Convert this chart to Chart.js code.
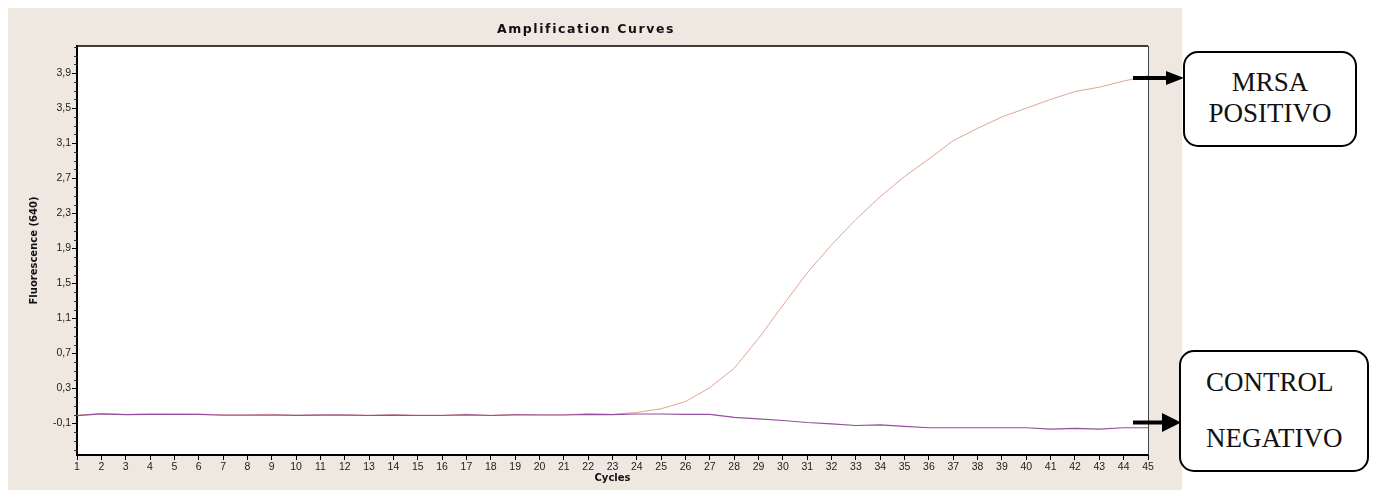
<!DOCTYPE html>
<html>
<head>
<meta charset="utf-8">
<script src="https://cdn.jsdelivr.net/npm/chart.js@4.4.1/dist/chart.umd.min.js"></script>
<style>
  html, body { margin: 0; padding: 0; background: #ffffff; }
  #wrap { position: relative; width: 1373px; height: 495px; overflow: hidden; background: #fff; }
  #panel { position: absolute; left: 8px; top: 8px; width: 1174px; height: 482px; background: #eee8e0; }
  #c { position: absolute; left: 0; top: 0; }
  .box { position: absolute; border: 2px solid #000; border-radius: 15px; background: #fff; box-sizing: border-box; }
  .lbl { position: absolute; font-family: "Liberation Serif", "Times New Roman", serif; font-size: 27px; line-height: 27px; color: #111; white-space: nowrap; }
  svg.arr { position: absolute; left: 0; top: 0; }
</style>
</head>
<body>
<div id="wrap">
  <div id="panel"></div>
  <canvas id="c" width="1170" height="495"></canvas>
  <div class="box" style="left:1183px; top:51px; width:174px; height:96px;"></div>
  <div class="box" style="left:1179px; top:350px; width:190px; height:122px;"></div>
  <div class="lbl" style="left:1183px; width:174px; text-align:center; top:69px;">MRSA</div>
  <div class="lbl" style="left:1183px; width:174px; text-align:center; top:100px;">POSITIVO</div>
  <div class="lbl" style="left:1206px; top:369px;">CONTROL</div>
  <div class="lbl" style="left:1206px; top:425px;">NEGATIVO</div>
  <svg class="arr" width="1373" height="495">
    <line x1="1133" y1="78" x2="1168" y2="78" stroke="#000" stroke-width="4"/>
    <polygon points="1166,71 1184,78 1166,85" fill="#000"/>
    <line x1="1133" y1="422.5" x2="1164" y2="422.5" stroke="#000" stroke-width="4"/>
    <polygon points="1162,413 1181,422.5 1162,432" fill="#000"/>
  </svg>
</div>
<script>
const chartTitle = 'Amplification Curves';
const cycles = [1,2,3,4,5,6,7,8,9,10,11,12,13,14,15,16,17,18,19,20,21,22,23,24,25,26,27,28,29,30,31,32,33,34,35,36,37,38,39,40,41,42,43,44,45];
const mrsaPositivo = [-0.005,0.012,0.003,0.008,0.007,0.006,0.0,0.0,0.006,-0.008,0.0,0.0,-0.006,0.0,-0.006,-0.006,0.006,-0.008,0.004,0.0,0.0,0.01,0.004,0.026,0.068,0.15,0.31,0.53,0.87,1.25,1.62,1.94,2.23,2.49,2.72,2.92,3.13,3.27,3.40,3.50,3.60,3.69,3.74,3.81,3.87];
const controlNegativo = [-0.01,0.01,0.0,0.003,0.003,0.003,-0.006,-0.006,-0.003,-0.008,-0.005,-0.005,-0.009,-0.005,-0.009,-0.009,-0.002,-0.009,-0.001,-0.003,-0.003,0.004,0.0,0.008,0.008,0.005,0.003,-0.03,-0.047,-0.066,-0.089,-0.104,-0.123,-0.115,-0.134,-0.149,-0.149,-0.149,-0.149,-0.149,-0.165,-0.157,-0.165,-0.149,-0.149];
const yTickValues = [-0.1,0.3,0.7,1.1,1.5,1.9,2.3,2.7,3.1,3.5,3.9];
const yTickLabels = ["-0,1","0,3","0,7","1,1","1,5","1,9","2,3","2,7","3,1","3,5","3,9"];
const yMinorTicks = [-0.4,-0.3,-0.2,0.0,0.1,0.2,0.4,0.5,0.6,0.8,0.9,1.0,1.2,1.3,1.4,1.6,1.7,1.8,2.0,2.1,2.2,2.4,2.5,2.6,2.8,2.9,3.0,3.2,3.3,3.4,3.6,3.7,3.8,4.0,4.1,4.2];
const xTickLabels = cycles.map(String);

const frame = {
  id: 'frame',
  beforeDraw(chart) {
    const a = chart.chartArea, ctx = chart.ctx;
    ctx.save();
    ctx.fillStyle = '#ffffff';
    ctx.fillRect(a.left, a.top, a.right - a.left, a.bottom - a.top);
    ctx.restore();
  },
  afterDraw(chart) {
    const a = chart.chartArea, ctx = chart.ctx, y = chart.scales.y;
    ctx.save();
    ctx.strokeStyle = '#000';
    ctx.lineWidth = 1.5;
    ctx.beginPath();
    ctx.moveTo(a.left, a.top); ctx.lineTo(a.right, a.top);
    ctx.stroke();
    ctx.strokeStyle = '#444';
    ctx.lineWidth = 1;
    ctx.beginPath();
    ctx.moveTo(a.right + 0.5, a.top); ctx.lineTo(a.right + 0.5, a.bottom);
    ctx.stroke();
    ctx.strokeStyle = '#333';
    ctx.beginPath();
    yMinorTicks.forEach(v => {
      const py = Math.round(y.getPixelForValue(v)) + 0.5;
      ctx.moveTo(a.left - 3, py); ctx.lineTo(a.left, py);
    });
    ctx.stroke();
    ctx.fillStyle = '#111';
    ctx.font = 'bold 12.5px "DejaVu Sans"';
    ctx.letterSpacing = '1.6px';
    ctx.textAlign = 'center';
    ctx.textBaseline = 'middle';
    ctx.fillText(chartTitle, 586, 30);
    ctx.restore();
  }
};

new Chart(document.getElementById('c'), {
  type: 'line',
  data: {
    datasets: [
      { label: 'MRSA POSITIVO', data: cycles.map((c, i) => ({ x: c, y: mrsaPositivo[i] })), borderColor: '#e0a597', borderWidth: 1, pointRadius: 0, tension: 0, order: 2 },
      { label: 'CONTROL NEGATIVO', data: cycles.map((c, i) => ({ x: c, y: controlNegativo[i] })), borderColor: '#93509c', borderWidth: 1.2, pointRadius: 0, tension: 0, order: 1 }
    ]
  },
  options: {
    responsive: false,
    animation: false,
    events: [],
    layout: { padding: { left: 22, right: 22, top: 46, bottom: 5 } },
    plugins: {
      legend: { display: false },
      tooltip: { enabled: false },
      title: { display: false }
    },
    scales: {
      x: {
        type: 'linear', min: 1, max: 45,
        afterBuildTicks(s) { s.ticks = cycles.map(v => ({ value: v })); },
        afterFit(s) { s.height = 35; },
        ticks: { callback: (v, i) => xTickLabels[i], color: '#222', font: { family: 'Liberation Sans', size: 10.5 }, padding: 1, maxRotation: 0, autoSkip: false },
        grid: { drawOnChartArea: false, drawTicks: true, tickLength: 5, color: '#000' },
        border: { display: true, color: '#000', width: 2 },
        title: { display: true, text: 'Cycles', color: '#111', font: { family: 'DejaVu Sans', size: 10, weight: 'bold' }, padding: 6 }
      },
      y: {
        type: 'linear', min: -0.46, max: 4.21,
        afterBuildTicks(s) { s.ticks = yTickValues.map(v => ({ value: v })); },
        afterFit(s) { s.width = 55; },
        ticks: { callback: (v, i) => yTickLabels[i], color: '#222', font: { family: 'Liberation Sans', size: 10.5 }, padding: 1 },
        grid: { drawOnChartArea: false, drawTicks: true, tickLength: 5, color: '#000' },
        border: { display: true, color: '#000', width: 2 },
        title: { display: true, text: 'Fluorescence (640)', color: '#111', font: { family: 'DejaVu Sans', size: 10, weight: 'bold' }, padding: 6 }
      }
    }
  },
  plugins: [frame]
});
</script>
</body>
</html>
